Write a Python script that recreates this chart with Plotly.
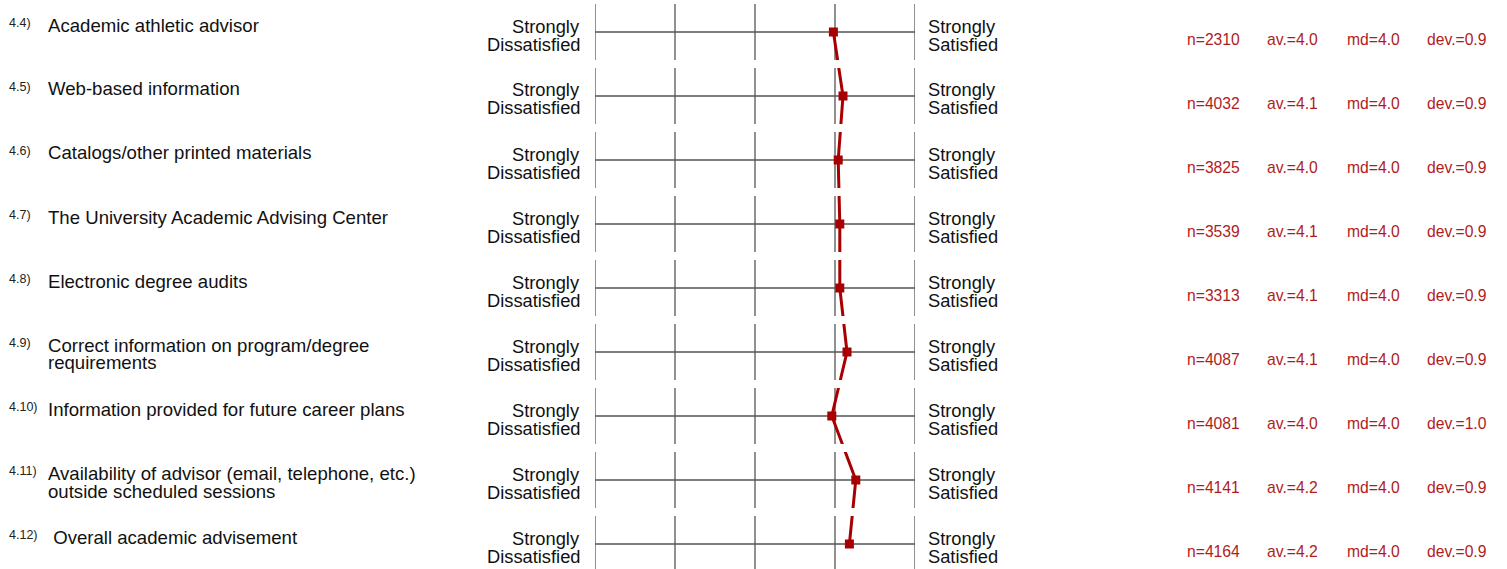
import plotly.graph_objects as go

# ---- data ----
item_numbers = ["4.4)", "4.5)", "4.6)", "4.7)", "4.8)", "4.9)", "4.10)", "4.11)", "4.12)"]
item_labels = [
    ["Academic athletic advisor"],
    ["Web-based information"],
    ["Catalogs/other printed materials"],
    ["The University Academic Advising Center"],
    ["Electronic degree audits"],
    ["Correct information on program/degree", "requirements"],
    ["Information provided for future career plans"],
    ["Availability of advisor (email, telephone, etc.)", "outside scheduled sessions"],
    [" Overall academic advisement"],
]
mean_values = [3.98, 4.10, 4.04, 4.06, 4.06, 4.15, 3.96, 4.26, 4.18]
n_values = [2310, 4032, 3825, 3539, 3313, 4087, 4081, 4141, 4164]
av_labels = ["4.0", "4.1", "4.0", "4.1", "4.1", "4.1", "4.0", "4.2", "4.2"]
md_labels = ["4.0"] * 9
dev_labels = ["0.9", "0.9", "0.9", "0.9", "0.9", "0.9", "1.0", "0.9", "0.9"]
left_pole = ["Strongly", "Dissatisfied"]
right_pole = ["Strongly", "Satisfied"]
scale_points = [1, 2, 3, 4, 5]

W, H = 1507, 569
ROW0, ROWH, HALF = 32, 64, 28
FONT = "Liberation Sans, Arial, sans-serif"
RED = "#a80000"
STAT_RED = "#b01c1c"
GRID = "#555555"

nrows = len(item_labels)
rows = list(range(nrows))

fig = go.Figure()
fig.add_trace(go.Scatter(
    x=mean_values, y=rows, mode="lines+markers",
    line=dict(color=RED, width=3),
    marker=dict(symbol="square", size=9, color=RED),
    hoverinfo="skip", showlegend=False, cliponaxis=False,
))

shapes = []
h = HALF / ROWH
for i in rows:
    shapes.append(dict(type="line", xref="x", yref="y", x0=scale_points[0], x1=scale_points[-1],
                       y0=i, y1=i, line=dict(color=GRID, width=1.3), layer="below"))
    for s in scale_points:
        shapes.append(dict(type="line", xref="x", yref="y", x0=s, x1=s, y0=i - h, y1=i + h,
                           line=dict(color=GRID, width=1.3), layer="below"))
    # white gap between rows (the row panels are separate)
    if i < nrows - 1:
        shapes.append(dict(type="rect", xref="x", yref="y", x0=scale_points[0] - 0.2,
                           x1=scale_points[-1] + 0.2, y0=i + h, y1=i + 1 - h,
                           fillcolor="white", line=dict(width=0), layer="above"))

ann = []

def px(x):
    return x / W

def py(y):
    return 1 - y / H

for i in rows:
    c = ROW0 + ROWH * i
    ann.append(dict(text=item_numbers[i], x=px(8), y=py(c - 9), xanchor="left", yanchor="middle",
                    font=dict(size=12.5, color="#222222", family=FONT)))
    for k, line in enumerate(item_labels[i]):
        ann.append(dict(text=line, x=px(47), y=py(c - 7 + 18 * k), xanchor="left", yanchor="middle",
                        font=dict(size=18.6, color="#111111", family=FONT)))
    for k, t in enumerate(left_pole):
        ann.append(dict(text=t, x=px(581), y=py(c - 6 + 18 * k), xanchor="right", yanchor="middle",
                        font=dict(size=18.3, color="#111111", family=FONT)))
    for k, t in enumerate(right_pole):
        ann.append(dict(text=t, x=px(927), y=py(c - 6 + 18 * k), xanchor="left", yanchor="middle",
                        font=dict(size=18.3, color="#111111", family=FONT)))
    stats = [f"n={n_values[i]}", f"av.={av_labels[i]}", f"md={md_labels[i]}", f"dev.={dev_labels[i]}"]
    for k, t in enumerate(stats):
        ann.append(dict(text=t, x=px(1186 + 80 * k), y=py(c + 7), xanchor="left", yanchor="middle",
                        font=dict(size=15.7, color=STAT_RED, family=FONT)))

for a in ann:
    a.update(xref="paper", yref="paper", showarrow=False, borderpad=0)

fig.update_layout(
    width=W, height=H, margin=dict(l=0, r=0, t=0, b=0),
    paper_bgcolor="white", plot_bgcolor="white",
    xaxis=dict(domain=[595 / W, 915 / W], range=[1, 5], visible=False, fixedrange=True),
    yaxis=dict(domain=[0, 1], range=[(H - ROW0) / ROWH, -ROW0 / ROWH], visible=False, fixedrange=True),
    shapes=shapes, annotations=ann,
)

fig.write_html(
    "out.html",
    config={"displayModeBar": False},
    post_script="document.body.style.margin='0';document.body.style.overflow='hidden';",
)
